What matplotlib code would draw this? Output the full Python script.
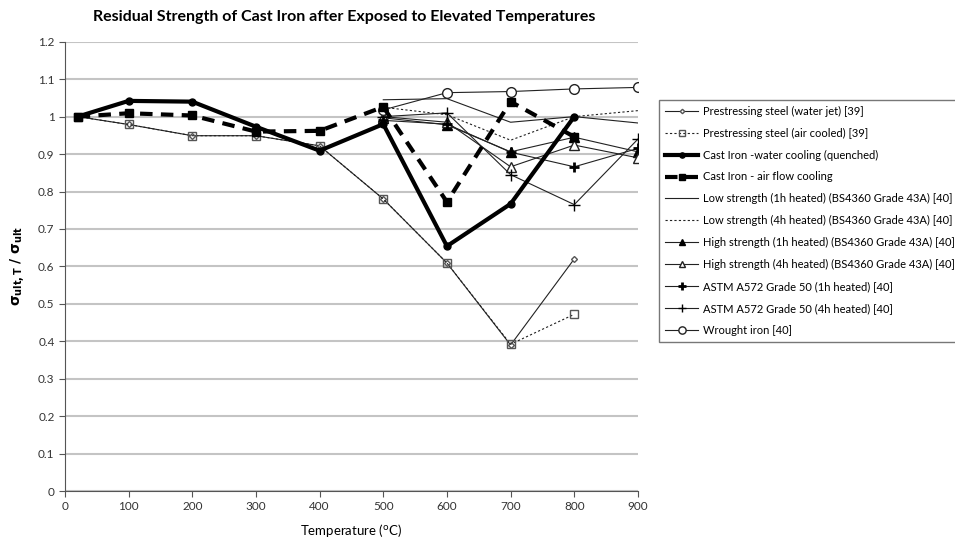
import matplotlib
matplotlib.use('Agg')
import matplotlib.pyplot as plt
from matplotlib.ticker import FormatStrFormatter, MultipleLocator

plt.rcParams['font.family'] = ['Lato', 'DejaVu Sans']

# temperatures (C)
t_full = [20, 100, 200, 300, 400, 500, 600, 700, 800]
t_hi = [500, 600, 700, 800, 900]

# residual strength ratios
ps_water = [1.0, 0.979, 0.949, 0.949, 0.922, 0.78, 0.609, 0.39, 0.62]
ps_air = [1.0, 0.979, 0.949, 0.949, 0.922, 0.78, 0.609, 0.392, 0.472]
ci_water = [1.0, 1.042, 1.04, 0.973, 0.909, 0.98, 0.654, 0.767, 1.0]
ci_air = [1.0, 1.009, 1.003, 0.96, 0.962, 1.026, 0.772, 1.04, 0.946]
low_1h = [1.045, 1.048, 0.985, 1.0, 0.983]
low_4h = [1.025, 1.005, 0.937, 1.0, 1.016]
high_1h = [0.997, 0.978, 0.906, 0.945, 0.906]
high_4h = [1.0, 0.985, 0.866, 0.924, 0.89]
astm_1h = [0.99, 0.98, 0.905, 0.866, 0.915]
astm_4h = [1.0, 1.01, 0.845, 0.765, 0.94]
wrought = [1.018, 1.064, 1.067, 1.074, 1.078]

labels = ['Prestressing steel (water jet) [39]',
          'Prestressing steel (air cooled) [39]',
          'Cast Iron -water cooling (quenched)',
          'Cast Iron - air flow cooling',
          'Low strength (1h heated) (BS4360 Grade 43A) [40]',
          'Low strength (4h heated) (BS4360 Grade 43A) [40]',
          'High strength (1h heated) (BS4360 Grade 43A) [40]',
          'High strength (4h heated) (BS4360 Grade 43A) [40]',
          'ASTM A572 Grade 50 (1h heated) [40]',
          'ASTM A572 Grade 50 (4h heated) [40]',
          'Wrought iron [40]']

fig = plt.figure(figsize=(9.55, 5.4), dpi=100)
ax = fig.add_axes([0.068, 0.0907, 0.6, 0.832])

k = '#222222'
thin = 0.8
ax.plot(t_full, ps_water, color=k, lw=thin, marker='D', ms=3, mfc='white', mec='#555555', label=labels[0])
ax.plot(t_full, ps_air, color=k, lw=thin, ls=(0, (2, 2)), marker='s', ms=6, mfc='none', mec='#555555', label=labels[1])
ax.plot(t_full, ci_water, color='black', lw=3, marker='o', ms=5, label=labels[2], zorder=5)
ax.plot(t_full, ci_air, color='black', lw=3, ls=(0, (3, 2)), marker='s', ms=6, label=labels[3], zorder=5)
ax.plot(t_hi, low_1h, color=k, lw=thin, label=labels[4])
ax.plot(t_hi, low_4h, color=k, lw=thin, ls=(0, (2, 2)), label=labels[5])
ax.plot(t_hi, high_1h, color=k, lw=thin, marker='^', ms=6.5, mfc='black', mec='black', label=labels[6])
ax.plot(t_hi, high_4h, color=k, lw=thin, marker='^', ms=6.5, mfc='white', mec=k, label=labels[7])
ax.plot(t_hi, astm_1h, color=k, lw=thin, marker='+', ms=7.5, mew=2, mec='black', label=labels[8])
ax.plot(t_hi, astm_4h, color=k, lw=thin, marker='+', ms=8, mew=1, mec='black', label=labels[9])
ax.plot(t_hi, wrought, color=k, lw=thin, marker='o', ms=7, mfc='white', mec=k, label=labels[10])

ax.set_xlim(0, 900)
ax.set_ylim(0, 1.2)
ax.xaxis.set_major_locator(MultipleLocator(100))
ax.yaxis.set_major_locator(MultipleLocator(0.1))
ax.yaxis.set_major_formatter(FormatStrFormatter('%g'))
ax.grid(axis='y', color='#c4c4c4', lw=1.5)
ax.set_axisbelow(True)
for s in ['top', 'right']:
    ax.spines[s].set_visible(False)
for s in ['left', 'bottom']:
    ax.spines[s].set_color('#555555')
ax.tick_params(direction='out', length=4, color='#555555', labelsize=8.5, labelcolor='#333333')

ax.set_xlabel('Temperature ($^{\\mathrm{o}}$C)', fontsize=9.5, labelpad=7)
ax.set_ylabel('$\\mathbf{\\sigma_{ult,T}\\ /\\ \\sigma_{ult}}$', fontsize=10, labelpad=8)
fig.text(0.36, 0.968, 'Residual Strength of Cast Iron after Exposed to Elevated Temperatures',
         ha='center', va='center', fontsize=11.5, fontweight='bold')

leg = fig.legend(loc='upper left', bbox_to_anchor=(0.684, 0.826), fontsize=8,
                 frameon=True, fancybox=False, edgecolor='#555555', handlelength=3,
                 labelspacing=0.98, borderpad=0.55, handletextpad=0.4, markerscale=0.75)
leg.get_frame().set_linewidth(1)

fig.savefig('out.png', dpi=100)
